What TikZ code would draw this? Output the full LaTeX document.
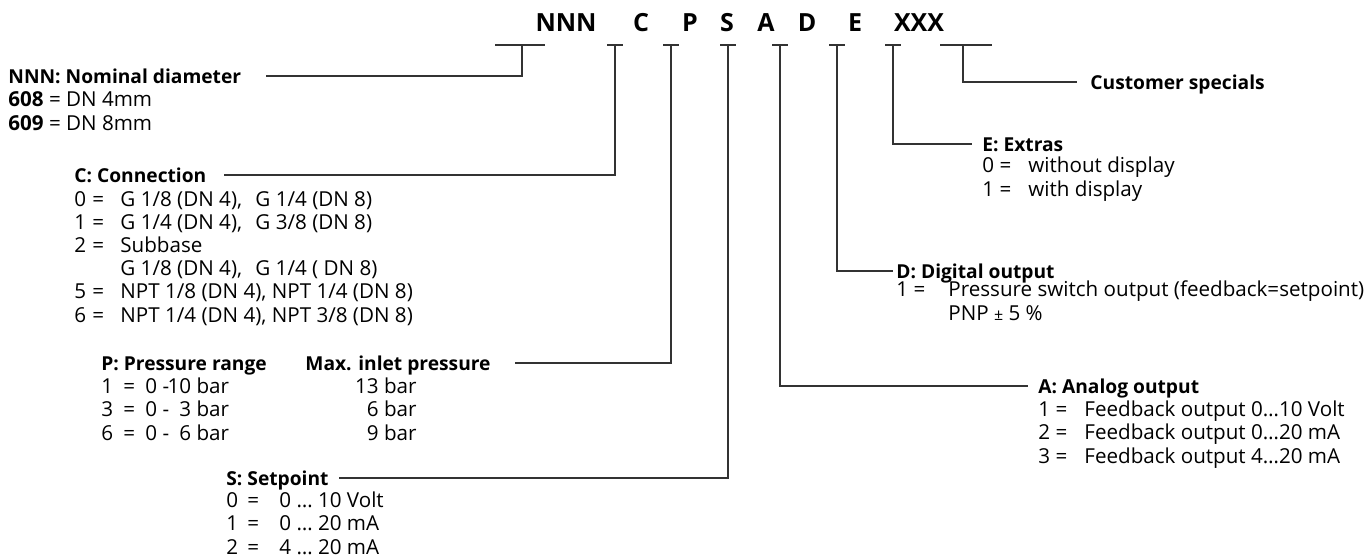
\documentclass[tikz,border=0pt]{standalone}
\usepackage{fontspec}
\setmainfont{Open Sans}

\newcommand{\opt}[3]{\makebox[#1][l]{#2}#3}

\begin{document}
\begin{tikzpicture}[x=0.5pt,y=-0.5pt,
  code/.style={font=\fontsize{12.5}{15}\selectfont\bfseries, inner sep=0pt, text height=9pt, text depth=0pt},
  head/.style={font=\fontsize{9.6}{11.6}\selectfont\bfseries, inner sep=0pt, text height=7pt, text depth=0pt},
  opts/.style={font=\fontsize{10.3}{11.6}\selectfont, inner sep=0pt, align=left},
  lead/.style={line width=0.65pt, black!80}]

\useasboundingbox (0,0) rectangle (1368,558);

%type code
\node [code] (nnn) at (566,22) {NNN};
\node [code] (c) at (641,22) {C};
\node [code] (p) at (690,22) {P};
\node [code] (s) at (727,22) {S};
\node [code] (a) at (766,22) {A};
\node [code] (d) at (807,22) {D};
\node [code] (e) at (855,22) {E};
\node [code] (xxx) at (919,22) {XXX};

%ticks under the code
\coordinate (nnntick) at (522,45);
\coordinate (ctick) at (615,45);
\coordinate (ptick) at (671,45);
\coordinate (stick) at (728,45);
\coordinate (atick) at (780,45);
\coordinate (dtick) at (837,45);
\coordinate (etick) at (893,45);
\coordinate (xtick) at (963,45);

\draw [lead] (495,45) -- (545,45);
\draw [lead] (607,45) -- (623,45);
\draw [lead] (663,45) -- (679,45);
\draw [lead] (720,45) -- (736,45);
\draw [lead] (772,45) -- (788,45);
\draw [lead] (829,45) -- (845,45);
\draw [lead] (885,45) -- (901,45);
\draw [lead] (940,45) -- (992,45);

%left side (multi-line blocks sit on their last line)
\node [head, anchor=west] (nhead) at (8,76) {NNN: Nominal diameter};
\node [opts, anchor=base west] (nopts) at (8,130) {\textbf{608} = DN 4mm\\\textbf{609} = DN 8mm};

\node [head, anchor=west] (chead) at (74,175) {C: Connection};
\node [opts, anchor=base west] (copts) at (74,322) {%
\opt{9pt}{0}{\opt{14pt}{=}{\makebox[67.5pt][l]{G 1/8 (DN 4),}G 1/4 (DN 8)}}\\
\opt{9pt}{1}{\opt{14pt}{=}{\makebox[67.5pt][l]{G 1/4 (DN 4),}G 3/8 (DN 8)}}\\
\opt{9pt}{2}{\opt{14pt}{=}{Subbase}}\\
\opt{9pt}{}{\opt{14pt}{}{\makebox[67.5pt][l]{G 1/8 (DN 4),}G 1/4 ( DN 8)}}\\
\opt{9pt}{5}{\opt{14pt}{=}{NPT 1/8 (DN 4), NPT 1/4 (DN 8)}}\\
\opt{9pt}{6}{\opt{14pt}{=}{NPT 1/4 (DN 4), NPT 3/8 (DN 8)}}};

\node [head, anchor=west] (phead) at (101,363) {P: Pressure range};
\node [head, anchor=west] (pmax) at (305,363) {Max. inlet pressure};
\node [opts, anchor=base west] (popts) at (101,440) {%
\opt{11pt}{1}{\opt{11pt}{=}{0 -\makebox[11pt][r]{10} bar}}\\
\opt{11pt}{3}{\opt{11pt}{=}{0 -\makebox[11pt][r]{3} bar}}\\
\opt{11pt}{6}{\opt{11pt}{=}{0 -\makebox[11pt][r]{6} bar}}};
\node [opts, align=right, anchor=base east] (pvals) at (417,440) {13 bar\\6 bar\\9 bar};

\node [head, anchor=west] (shead) at (226,478) {S: Setpoint};
\node [opts, anchor=base west] (sopts) at (226,554) {%
\opt{10.5pt}{0}{\opt{16pt}{=}{0 … 10 Volt}}\\
\opt{10.5pt}{1}{\opt{16pt}{=}{0 … 20 mA}}\\
\opt{10.5pt}{2}{\opt{16pt}{=}{4 … 20 mA}}};

%right side
\node [head, anchor=west] (cshead) at (1090,82) {Customer specials};

\node [head, anchor=west] (ehead) at (982,144) {E: Extras};
\node [opts, anchor=base west] (eopts) at (982,196) {%
\opt{23pt}{0 =}{without display}\\
\opt{23pt}{1 =}{with display}};

\node [head, anchor=west] (dhead) at (896,271) {D: Digital output};
\node [opts, anchor=base west] (dopts) at (896,320) {%
\opt{26pt}{1 =}{Pressure switch output (feedback=setpoint)}\\
\opt{26pt}{}{PNP {\footnotesize±} 5 \%}};

\node [head, anchor=west] (ahead) at (1038,386) {A: Analog output};
\node [opts, anchor=base west] (aopts) at (1038,463) {%
\opt{23pt}{1 =}{Feedback output 0…10 Volt}\\
\opt{23pt}{2 =}{Feedback output 0…20 mA}\\
\opt{23pt}{3 =}{Feedback output 4…20 mA}};

%leader lines
\draw [lead, shorten >=12pt] (nnntick) |- (nhead.east);
\draw [lead, shorten >=8.5pt] (ctick) |- (chead.east);
\draw [lead, shorten >=12pt] (ptick) |- (pmax.east);
\draw [lead, shorten >=5pt] (stick) |- (shead.east);
\draw [lead, shorten >=5pt] (atick) |- (ahead.west);
\draw [lead, shorten >=1.5pt] (dtick) |- (dhead.west);
\draw [lead, shorten >=5pt] (etick) |- (ehead.west);
\draw [lead, shorten >=6.5pt] (xtick) |- (cshead.west);

\end{tikzpicture}
\end{document}
